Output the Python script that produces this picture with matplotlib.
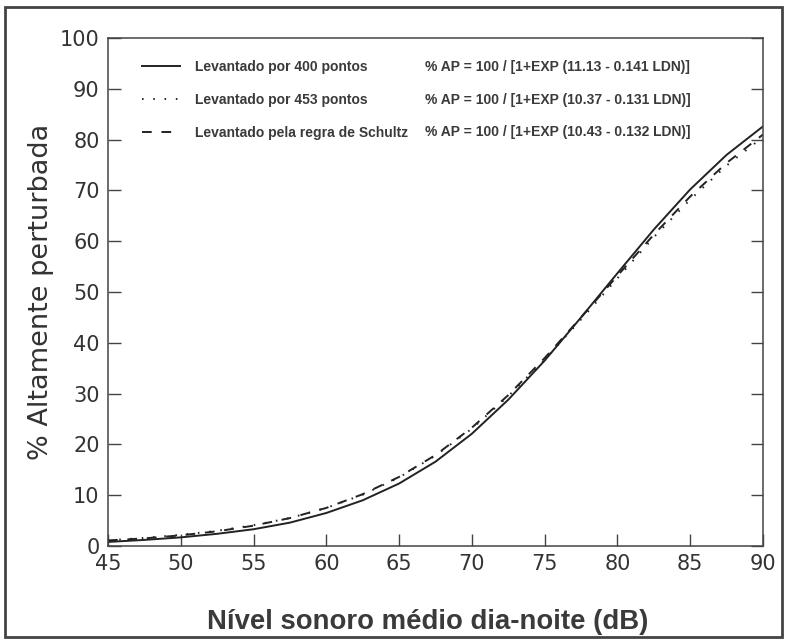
import matplotlib
matplotlib.use("Agg")
import matplotlib.pyplot as plt
from matplotlib.patches import Rectangle

# Data
ldn = [45, 47.5, 50, 52.5, 55, 57.5, 60, 62.5, 65, 67.5, 70, 72.5, 75, 77.5, 80, 82.5, 85, 87.5, 90]
ap_400 = [0.8, 1.2, 1.7, 2.4, 3.3, 4.6, 6.5, 9.0, 12.3, 16.6, 22.1, 28.8, 36.5, 45.0, 53.7, 62.3, 70.2, 77.0, 82.6]
ap_453 = [1.1, 1.6, 2.2, 3.0, 4.1, 5.5, 7.5, 10.1, 13.5, 17.8, 23.1, 29.5, 36.7, 44.6, 52.7, 60.8, 68.2, 74.9, 80.5]
ap_schultz = [1.1, 1.5, 2.1, 2.9, 4.0, 5.5, 7.5, 10.2, 13.6, 17.9, 23.3, 29.7, 37.0, 45.0, 53.2, 61.3, 68.8, 75.4, 81.0]

labels = ["Levantado por 400 pontos",
          "Levantado por 453 pontos",
          "Levantado pela regra de Schultz"]
equations = ["% AP = 100 / [1+EXP (11.13 - 0.141 LDN)]",
             "% AP = 100 / [1+EXP (10.37 - 0.131 LDN)]",
             "% AP = 100 / [1+EXP (10.43 - 0.132 LDN)]"]
xticks = [45, 50, 55, 60, 65, 70, 75, 80, 85, 90]
yticks = [0, 10, 20, 30, 40, 50, 60, 70, 80, 90, 100]

W, H = 786, 640
fig = plt.figure(figsize=(W / 100, H / 100), dpi=100)
fig.patch.set_facecolor("white")

L, R, T, B = 108, 763, 38, 546
ax = fig.add_axes([L / W, 1 - B / H, (R - L) / W, (B - T) / H])

lc = "#222222"
ax.plot(ldn, ap_400, color=lc, lw=1.4, ls="-", label=labels[0])
ax.plot(ldn, ap_453, color=lc, lw=1.4, ls=(0, (0.8, 5)), label=labels[1])
ax.plot(ldn, ap_schultz, color=lc, lw=1.4, ls=(0, (5, 5)), label=labels[2])

ax.set_xlim(45, 90)
ax.set_ylim(0, 100)
ax.set_xticks(xticks)
ax.set_yticks(yticks)
tc = "#333333"
ax.tick_params(axis="both", direction="in", length=9, width=1, color="#444444",
               labelsize=15, labelcolor=tc)
ax.tick_params(axis="y", right=True, pad=6)
ax.tick_params(axis="x", pad=6)
for lab in ax.get_xticklabels() + ax.get_yticklabels():
    lab.set_family("DejaVu Sans")
for s in ax.spines.values():
    s.set_color("#444444")
    s.set_linewidth(1.1)

ax.set_ylabel("% Altamente perturbada", fontsize=19.5, color=tc, family="DejaVu Sans")
ax.yaxis.set_label_coords(-(L - 41) / (R - L), 0.5)
ax.yaxis.label.set_va("center")
ax.set_xlabel("Nível sonoro médio dia-noite (dB)", fontsize=19.8, color="#3a3a3a",
              family="Liberation Sans", fontweight="bold")
ax.xaxis.set_label_coords((427.5 - L) / (R - L), -(622 - B) / (B - T), transform=ax.transAxes)
ax.xaxis.label.set_va("center")

leg = ax.legend(loc="upper left", bbox_to_anchor=((142 - L) / (R - L), 1 - (60 - T) / (B - T)),
                frameon=False, borderpad=0, borderaxespad=0,
                prop={"family": "Liberation Sans", "weight": "bold", "size": 10},
                handlelength=2.7, handletextpad=1.1, labelspacing=1.37)
for t in leg.get_texts():
    t.set_color("#3a3a3a")

for i, eq in enumerate(equations):
    yc = [67, 100, 132][i]
    ax.text((425 - L) / (R - L), 1 - (yc - T) / (B - T), eq, transform=ax.transAxes,
            ha="left", va="center", fontsize=10, fontweight="bold",
            family="Liberation Sans", color="#3a3a3a")

# Scanned page frame
fig.patches.append(Rectangle((5 / W, 1 - 637 / H), (782 - 5) / W, (637 - 7) / H,
                             transform=fig.transFigure, fill=False,
                             edgecolor="#444444", linewidth=2.0))

fig.savefig("out.png", dpi=100)
